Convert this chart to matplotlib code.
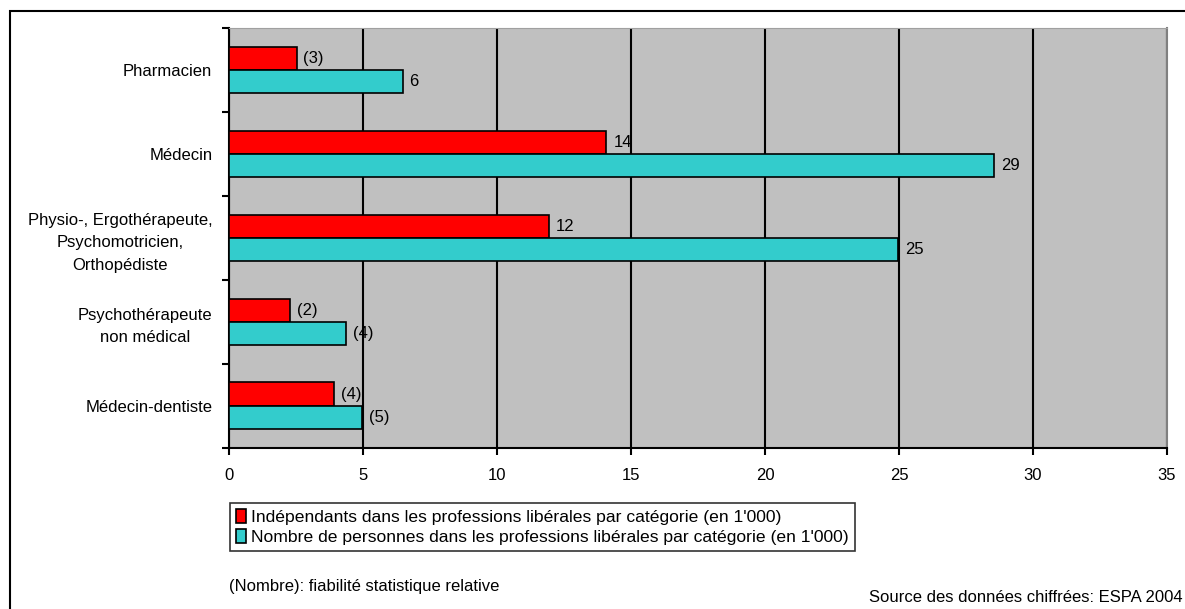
import matplotlib
matplotlib.use('Agg')
import matplotlib.pyplot as plt
from matplotlib.patches import Rectangle
import numpy as np

plt.rcParams['font.family'] = ['Liberation Sans', 'DejaVu Sans']

categories = ['Pharmacien', 'Médecin',
              'Physio-, Ergothérapeute,\nPsychomotricien,\nOrthopédiste',
              'Psychothérapeute\nnon médical', 'Médecin-dentiste']
independants = [2.52, 14.08, 11.93, 2.29, 3.92]
personnes = [6.48, 28.56, 24.97, 4.38, 4.97]
lab_indep = ['(3)', '14', '12', '(2)', '(4)']
lab_pers = ['6', '29', '25', '(4)', '(5)']
legend_labels = ['Indépendants dans les professions libérales par catégorie (en 1\'000)',
                 'Nombre de personnes dans les professions libérales par catégorie (en 1\'000)']

fs = 12
fig = plt.figure(figsize=(11.85, 6.09), dpi=100)
# outer frame (clipped on the right and bottom as in the original)
fig.patches.append(Rectangle((10 / 1185, -0.05), 1.1, 1 - 11 / 609 + 0.05,
                             transform=fig.transFigure, fill=False,
                             edgecolor='black', linewidth=1.5))

ax = fig.add_axes([229 / 1185, 1 - 447.5 / 609, (1167 - 229) / 1185, (447.5 - 28) / 609])
ax.set_facecolor('#C0C0C0')

n = len(categories)
y = np.arange(n)  # 0 at top after inversion
h = 0.275
b1 = ax.barh(y - h / 2, independants, height=h, color='#FF0000',
             edgecolor='black', linewidth=1.2, label=legend_labels[0], zorder=3)
b2 = ax.barh(y + h / 2, personnes, height=h, color='#33CCCC',
             edgecolor='black', linewidth=1.2, label=legend_labels[1], zorder=3)

for bars, labels in ((b1, lab_indep), (b2, lab_pers)):
    for rect, txt in zip(bars, labels):
        ax.annotate(txt, (rect.get_width(), rect.get_y() + rect.get_height() / 2),
                    xytext=(5, 0), textcoords='offset points', va='center', ha='left',
                    fontsize=fs, zorder=4)

ax.set_xlim(0, 35)
ax.set_ylim(n - 0.5, -0.5)
ax.set_xticks(np.arange(0, 36, 5))
ax.tick_params(axis='x', labelsize=fs, length=5, width=1.5, direction='out', pad=10)
ax.xaxis.grid(True, color='black', linewidth=1.5, zorder=1)
ax.set_axisbelow(True)

ax.set_yticks(np.arange(n + 1) - 0.5)
ax.set_yticklabels([])
ax.tick_params(axis='y', which='major', length=5, width=1.5, direction='out')
ax.set_yticks(y, minor=True)
ax.set_yticklabels(categories, minor=True, fontsize=fs, multialignment='center',
                   linespacing=1.6)
ax.tick_params(axis='y', which='minor', length=0, pad=12)

ax.spines['left'].set_linewidth(1.5)
ax.spines['bottom'].set_linewidth(1.5)
ax.spines['top'].set_color('#A0A0A0')
ax.spines['right'].set_color('#808080')
ax.spines['right'].set_linewidth(1.5)

leg = fig.legend(handles=[b1, b2], loc='upper left',
                 bbox_to_anchor=(230 / 1185, 1 - 503 / 609), fontsize=12.6,
                 frameon=True, fancybox=False, edgecolor='black',
                 handlelength=0.55, handleheight=0.8, handletextpad=0.3,
                 borderpad=0.35, labelspacing=0.25, borderaxespad=0)
leg.get_frame().set_linewidth(1.2)

fig.text(229 / 1185, 1 - 587 / 609, '(Nombre): fiabilité statistique relative',
         fontsize=fs, ha='left', va='center')
fig.text(1183 / 1185, 1 - 598 / 609, 'Source des données chiffrées: ESPA 2004',
         fontsize=fs, ha='right', va='center')

fig.savefig('out.png', dpi=100)
